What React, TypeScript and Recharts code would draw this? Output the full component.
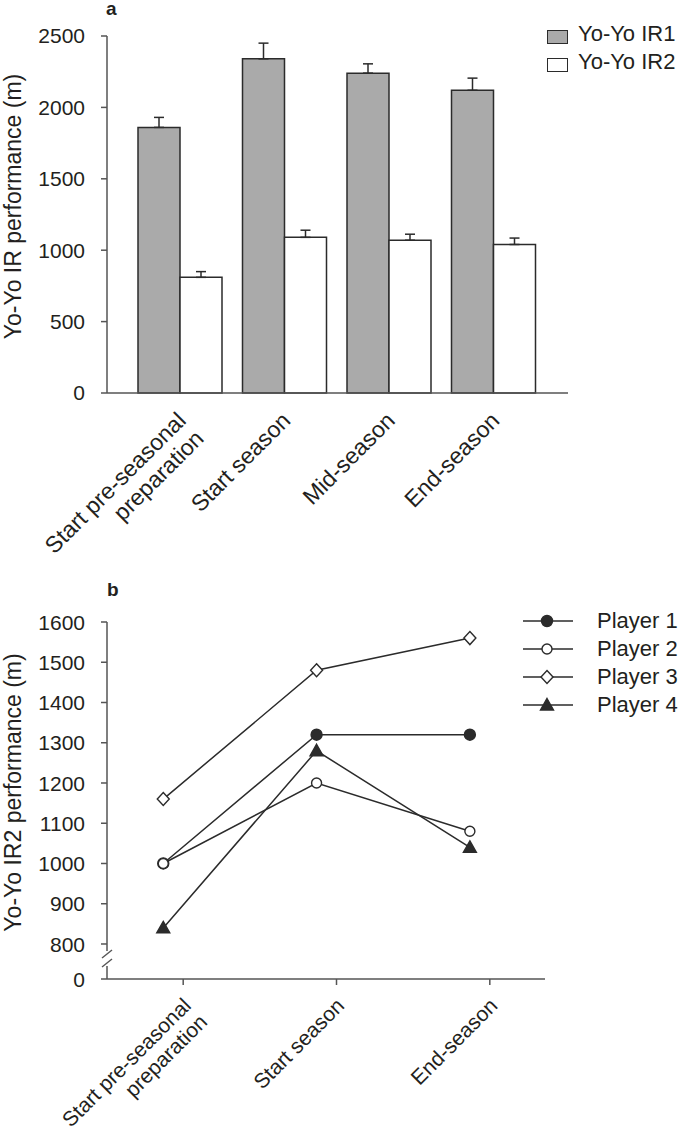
import React from "react";
import {
  BarChart,
  Bar,
  ErrorBar,
  LineChart,
  Line,
  XAxis,
  YAxis,
  Legend,
} from "recharts";

const FONT = "'Liberation Sans', Arial, Helvetica, sans-serif";
const INK = "#231f20";
const EDGE = "#2b2b2b";
const AXIS = "#555555";

// panel a: group means and upper SD
const stagesA = ["Start pre-seasonal\npreparation", "Start season", "Mid-season", "End-season"];
const ir1Mean = [1860, 2340, 2240, 2120];
const ir1Sd = [70, 110, 65, 85];
const ir2Mean = [810, 1090, 1070, 1040];
const ir2Sd = [40, 50, 42, 45];
const yTicksA = [0, 500, 1000, 1500, 2000, 2500];

// panel b: individual players
const stagesB = ["Start pre-seasonal\npreparation", "Start season", "End-season"];
const player1 = [1000, 1320, 1320];
const player2 = [1000, 1200, 1080];
const player3 = [1160, 1480, 1560];
const player4 = [840, 1280, 1040];
const playerNames = ["Player 1", "Player 2", "Player 3", "Player 4"];
const markerKinds = ["filledCircle", "openCircle", "openDiamond", "filledTriangle"];
const yTicksB = [800, 900, 1000, 1100, 1200, 1300, 1400, 1500, 1600];
const AXIS_FLOOR = 713; // value drawn as "0" below the axis break
const TICK_SHIFT = 0.13; // category ticks sit a little right of the points

const barData = stagesA.map((stage, i) => ({
  stage,
  ir1: ir1Mean[i],
  ir1Err: [0, ir1Sd[i]],
  ir2: ir2Mean[i],
  ir2Err: [0, ir2Sd[i]],
}));

const playerSeries = [player1, player2, player3, player4];
const lineData = stagesB.map((stage, i) => {
  const row: Record<string, number | string> = { pos: i, stage };
  playerSeries.forEach((vals, k) => {
    row[`p${k + 1}`] = vals[i];
  });
  return row;
});

function StageTick(props: any) {
  const { x, y, payload, labels, ox, oy, size = 23 } = props;
  const raw = labels ? labels[Math.round(payload.value)] : payload.value;
  const lines = String(raw).split("\n");
  return (
    <g transform={`translate(${x + ox},${y + oy}) rotate(-45)`}>
      <text textAnchor="end" fontFamily={FONT} fontSize={size} fill={INK}>
        {lines.map((l, i) => (
          <tspan key={i} x={0} dy={i === 0 ? 0 : "1.1em"}>
            {l}
          </tspan>
        ))}
      </text>
    </g>
  );
}

function BrokenTick(props: any) {
  const { x, y, payload } = props;
  const isFloor = payload.value === AXIS_FLOOR;
  const ax = x + 22;
  return (
    <g>
      {isFloor && (
        <g stroke={AXIS} strokeWidth={1.4}>
          <rect x={ax - 4} y={y - 28} width={8} height={15} fill="#fff" stroke="none" />
          <line x1={ax - 5} y1={y - 21} x2={ax + 5} y2={y - 29} />
          <line x1={ax - 5} y1={y - 12} x2={ax + 5} y2={y - 20} />
        </g>
      )}
      <text x={x} y={y} dy="0.36em" textAnchor="end" fontFamily={FONT} fontSize={21} fill={INK}>
        {isFloor ? "0" : payload.value}
      </text>
    </g>
  );
}

function Marker({ kind, cx, cy }: { kind: string; cx: number; cy: number }) {
  const line = { stroke: EDGE, strokeWidth: 1.4 };
  if (kind === "filledCircle") return <circle cx={cx} cy={cy} r={5.5} fill={EDGE} {...line} />;
  if (kind === "openCircle") return <circle cx={cx} cy={cy} r={5} fill="#fff" {...line} />;
  if (kind === "openDiamond")
    return (
      <path
        d={`M${cx},${cy - 6.5}L${cx + 6},${cy}L${cx},${cy + 6.5}L${cx - 6},${cy}Z`}
        fill="#fff"
        {...line}
      />
    );
  return (
    <path d={`M${cx},${cy - 6.5}L${cx + 6.5},${cy + 5}L${cx - 6.5},${cy + 5}Z`} fill={EDGE} {...line} />
  );
}

const axisTitle = (text: string, baseX: number) => (props: any) => {
  const { y, height } = props.viewBox;
  const cy = y + height / 2 - 8;
  return (
    <text
      transform={`translate(${baseX},${cy}) rotate(-90)`}
      textAnchor="middle"
      fontFamily={FONT}
      fontSize={23}
      fill={INK}
    >
      {text}
    </text>
  );
};

function BarKey({ payload }: any) {
  return (
    <div style={{ fontFamily: FONT, fontSize: 22, color: INK }}>
      {(payload ?? []).map((e: any) => (
        <div key={e.value} style={{ display: "flex", alignItems: "center", height: 28, whiteSpace: "nowrap" }}>
          <span
            style={{
              boxSizing: "border-box",
              width: 21,
              height: 14,
              background: e.color,
              border: `1.5px solid ${EDGE}`,
              marginRight: 10,
              marginTop: 5,
            }}
          />
          {e.value}
        </div>
      ))}
    </div>
  );
}

function PlayerKey({ payload }: any) {
  return (
    <div style={{ fontFamily: FONT, fontSize: 22, color: INK }}>
      {(payload ?? []).map((e: any) => {
        const k = playerNames.indexOf(e.value);
        return (
          <div key={e.value} style={{ display: "flex", alignItems: "center", height: 28, whiteSpace: "nowrap" }}>
            <svg width={50} height={16} style={{ marginRight: 24 }}>
              <line x1={0} y1={8} x2={50} y2={8} stroke={EDGE} strokeWidth={1.5} />
              <Marker kind={markerKinds[k]} cx={24} cy={8} />
            </svg>
            {e.value}
          </div>
        );
      })}
    </div>
  );
}

const panelLetter: React.CSSProperties = {
  position: "absolute",
  fontFamily: FONT,
  fontWeight: "bold",
  fontSize: 19,
  lineHeight: "12px",
  color: INK,
};

export default function App() {
  return (
    <div
      style={{
        position: "absolute",
        left: 0,
        top: 0,
        width: 685,
        height: 1140,
        background: "#fff",
        fontFamily: FONT,
      }}
    >
      <div style={{ ...panelLetter, left: 106, top: 3 }}>a</div>
      <div style={{ ...panelLetter, left: 107, top: 584 }}>b</div>

      <BarChart
        width={685}
        height={560}
        data={barData}
        margin={{ top: 36, right: 117, bottom: 0, left: 0 }}
        barSize={42}
        barGap={0}
      >
        <XAxis
          dataKey="stage"
          height={167}
          padding={{ left: 21, right: 22 }}
          stroke={AXIS}
          strokeWidth={1.5}
          tickLine={false}
          tickSize={0}
          tickMargin={0}
          interval={0}
          tick={<StageTick ox={7} oy={29} />}
        />
        <YAxis
          width={107}
          domain={[0, 2500]}
          ticks={yTicksA}
          stroke={AXIS}
          strokeWidth={1.5}
          tickSize={6}
          tickMargin={16}
          tick={{ fill: INK, fontSize: 21, fontFamily: FONT }}
          label={{ content: axisTitle("Yo-Yo IR performance (m)", 21) }}
        />
        <Legend
          layout="vertical"
          align="center"
          verticalAlign="middle"
          wrapperStyle={{ left: 547, top: 20, width: 140 }}
          content={<BarKey />}
        />
        <Bar dataKey="ir1" name="Yo-Yo IR1" fill="#aaaaaa" stroke={EDGE} strokeWidth={1.5} isAnimationActive={false}>
          <ErrorBar dataKey="ir1Err" width={5} stroke={EDGE} strokeWidth={1.5} isAnimationActive={false} />
        </Bar>
        <Bar dataKey="ir2" name="Yo-Yo IR2" fill="#ffffff" stroke={EDGE} strokeWidth={1.5} isAnimationActive={false}>
          <ErrorBar dataKey="ir2Err" width={5} stroke={EDGE} strokeWidth={1.5} isAnimationActive={false} />
        </Bar>
      </BarChart>

      <LineChart
        width={685}
        height={580}
        data={lineData}
        margin={{ top: 62, right: 140, bottom: 0, left: 0 }}
      >
        <XAxis
          dataKey="pos"
          type="number"
          domain={[-0.367, 2.49]}
          allowDataOverflow
          ticks={stagesB.map((_, i) => i + TICK_SHIFT)}
          height={161}
          stroke={AXIS}
          strokeWidth={1.5}
          tickSize={6}
          tickMargin={0}
          interval={0}
          tick={<StageTick labels={stagesB} ox={9} oy={22} size={21} />}
        />
        <YAxis
          width={107}
          domain={[AXIS_FLOOR, 1600]}
          allowDataOverflow
          ticks={[AXIS_FLOOR, ...yTicksB]}
          stroke={AXIS}
          strokeWidth={1.5}
          tickSize={6}
          tickMargin={16}
          interval={0}
          tick={<BrokenTick />}
          label={{ content: axisTitle("Yo-Yo IR2 performance (m)", 21) }}
        />
        <Legend
          layout="vertical"
          align="center"
          verticalAlign="middle"
          wrapperStyle={{ left: 523, top: 47, width: 162 }}
          content={<PlayerKey />}
        />
        {playerNames.map((name, k) => (
          <Line
            key={name}
            dataKey={`p${k + 1}`}
            name={name}
            stroke={EDGE}
            strokeWidth={1.5}
            activeDot={false}
            isAnimationActive={false}
            dot={(p: any) => <Marker key={`${name}-${p.index}`} kind={markerKinds[k]} cx={p.cx} cy={p.cy} />}
          />
        ))}
      </LineChart>
    </div>
  );
}
